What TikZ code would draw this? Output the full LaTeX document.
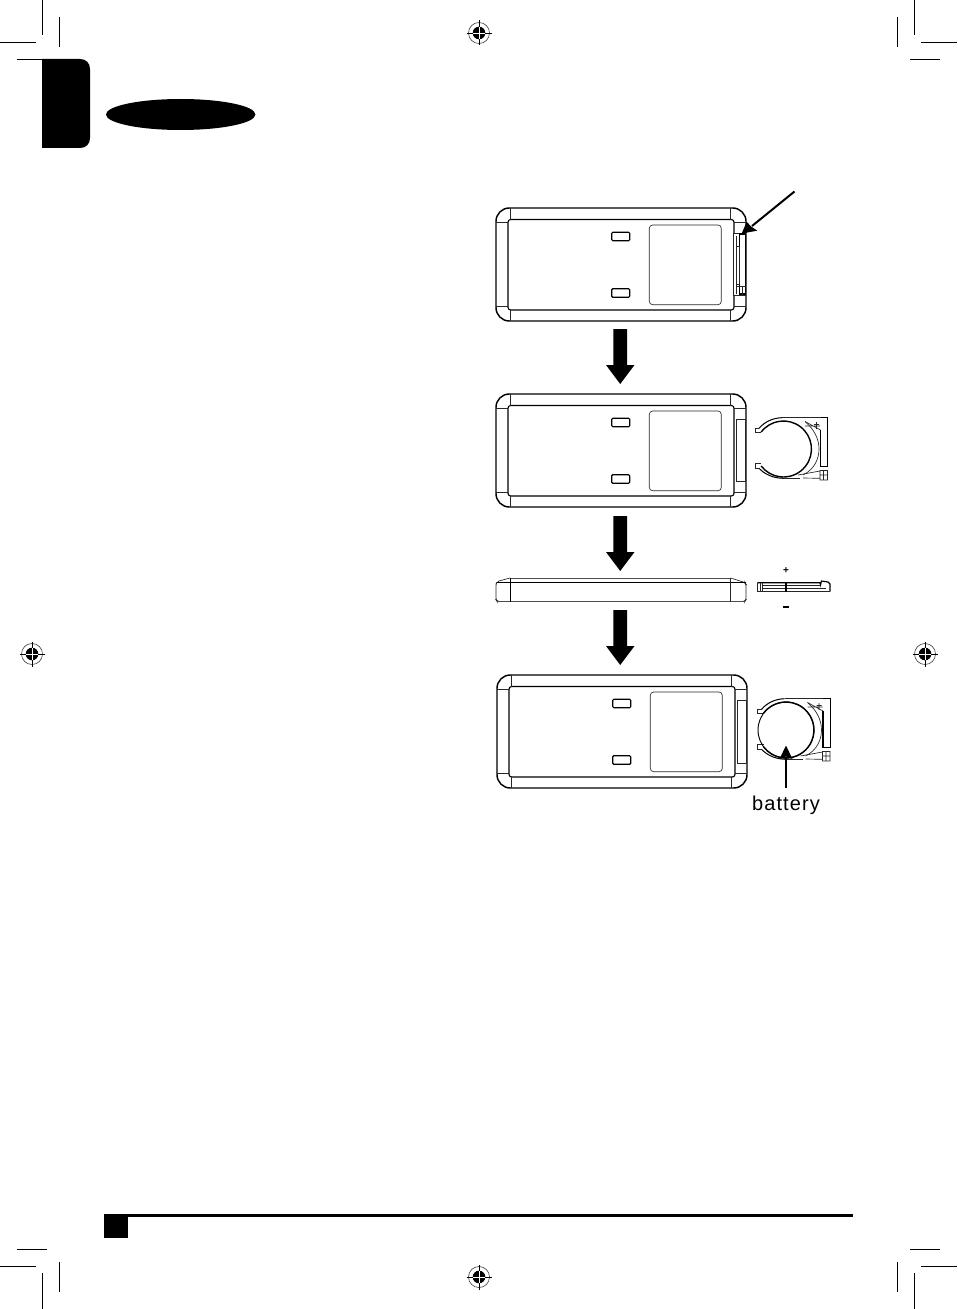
\documentclass[tikz,border=0pt]{standalone}
\usepackage{fontspec}
\newfontfamily\labelfont[LetterSpace=5.5]{Liberation Sans}
\newfontfamily\signfont{Liberation Sans}
\tikzset{
  outerline/.style={line width=1.1pt,black},
  innerline/.style={line width=0.85pt,black},
  thinline/.style={line width=0.5pt,black!85},
  cropline/.style={line width=0.75pt,black},
  bigarrow/.style={fill=black,draw=none},
}
\newcommand{\deviceface}[2]{%
  \begin{scope}[shift={(#1,#2)}]
    \draw[outerline,rounded corners=10] (496,208) rectangle (746,321);
    \draw[innerline,rounded corners=2] (508,219.5) rectangle (734,310);
    \draw[thinline] (510,208)--(510,219.5) (730.5,208)--(730.5,219.5)
      (510,310)--(510,321) (730.5,310)--(730.5,321)
      (496,222)--(508,222) (734,222)--(746,222)
      (496,306.5)--(508,306.5) (734,306.5)--(746,306.5);
    \draw[thinline,rounded corners=2.5] (649.3,225) rectangle (721.3,304.7);
    \draw[innerline,rounded corners=0.8] (611.7,232.3) rectangle (629.7,240.7);
    \draw[innerline,rounded corners=0.8] (611.7,288.7) rectangle (629.7,297.3);
  \end{scope}}
\newcommand{\holder}[2]{%
  \begin{scope}[shift={(#1,#2)}]
    % main ring
    \draw[line width=1.05pt] (761.2,432) arc[start angle=-142.6,end angle=142.6,radius=28];
    % outer rim, heavier on the left where the ring opens
    \draw[line width=0.75pt] (759,428.3) .. controls (765,421.5) and (773,418) .. (782,417.7);
    \draw[line width=0.75pt] (759,468.3) .. controls (765,474.5) and (773,478) .. (783,478.3);
    \draw[thinline] (782,417.7)--(820.5,417.7) (783,478.3)--(800,478.3);
    % second arc on the right
    \draw[thinline] (805,421.5) .. controls (815,430) and (819,440) .. (819,449)
      .. controls (819,458) and (815,469) .. (803,475);
    % tabs
    \draw[thinline] (759,428.3)--(755,428.3)--(755,432.3)--(761.2,432.3);
    \draw[thinline] (761.2,463.3)--(755,463.3)--(755,468.3)--(759,468.3);
    % right hand bar
    \draw[line width=0.8pt] (820.5,417.7)--(827.7,417.7)--(827.7,466.7)--(820.5,466.7)--(820.5,430);
    \draw[thinline] (805,421.5)--(820.5,430) (805,426)--(820,426)
      (814,424.5)--(819,424.5) (816.5,422)--(816.5,429);
    % lower catch
    \draw[thinline] (798,475)--(820,471) (803,478)--(820,478.3)
      (820,470.5) rectangle (827.5,480) (820,475)--(827.5,475) (823.5,470.5)--(823.5,480);
  \end{scope}}
\newcommand{\downarrowbig}[1]{%
  \fill[bigarrow] (613.3,#1)--(627,#1)--(627,#1+36)--(634.5,#1+36)--(620.2,#1+55)--(606,#1+36)--(613.3,#1+36)--cycle;}
\newcommand{\regmark}[2]{%
  \begin{scope}[shift={(#1,#2)}]
    \draw[line width=0.5pt,black!70] (0,0) circle[radius=10.5];
    \fill[black] (0,0) circle[radius=6.3];
    \draw[line width=0.6pt,white] (-6.3,0)--(6.3,0) (0,-6.3)--(0,6.3);
    \draw[line width=0.6pt,black] (-12.5,0)--(-6.3,0) (6.3,0)--(12.5,0) (0,-12.5)--(0,-6.3) (0,6.3)--(0,12.5);
  \end{scope}}
\begin{document}
\begin{tikzpicture}[x=0.75pt,y=-0.75pt]
\useasboundingbox (0,0) rectangle (957,1309);
% crop marks
\draw[cropline] (0,42.5)--(36,42.5) (42.5,0)--(42.5,35) (59.5,17)--(59.5,47) (17,59.5)--(42,59.5);
\draw[cropline] (957,42.5)--(921,42.5) (914.5,0)--(914.5,35) (897.5,17)--(897.5,47) (940,59.5)--(910,59.5);
\draw[cropline] (0,1266.5)--(36,1266.5) (42.5,1309)--(42.5,1273) (59.5,1292)--(59.5,1262) (17,1249.5)--(47,1249.5);
\draw[cropline] (957,1266.5)--(921,1266.5) (914.5,1309)--(914.5,1273) (897.5,1292)--(897.5,1262) (940,1249.5)--(910,1249.5);
\regmark{479}{33}\regmark{32}{654}\regmark{925}{654}\regmark{479}{1277}
% header tab and ellipse
\fill[black] (42,59)--(80,59) .. controls (86,59) and (90,63) .. (90,69)--(90,138) .. controls (90,144) and (86,148) .. (80,148)--(42,148)--cycle;
\fill[black] (180.7,114.5) ellipse[x radius=74.7,y radius=15.5];
% footer
\fill[black] (104,1214) rectangle (127.5,1238);
\fill[black] (127,1214) rectangle (853,1216.8);
% device 1
\deviceface{0}{0}
\draw[thinline,fill=white] (733,233.5) rectangle (745.7,295.7);
\draw[innerline] (739.5,234) -- (745.7,234) -- (745.7,294) -- (739.5,294) -- cycle;
\draw[thinline] (736,236)--(736,294) (737,246)--(739.5,246)--(739.5,284)--(737,284)
  (737,286)--(745.7,286) (742,286)--(742,295.7);
\coordinate (cliptail) at (794.5,191.5);
\coordinate (cliptip) at (741.7,233.5);
\draw[line width=1.5pt] (cliptail)--(752,226);
\fill[black] (cliptip)--(746.7,221.7)--(751,226.5)--(757.3,230.7)--cycle;
\downarrowbig{329}
% device 2
\deviceface{0}{186}
\draw[thinline] (736.7,419) rectangle (745,481.7);
\holder{0}{0}
\downarrowbig{516}
% device 3 side view
\draw[thinline,rounded corners=1.5] (510,578)--(497,581.5)--(496,584)--(496,600)--(497,601.5)--(745,601.5)--(746,600)--(746,584)--(745,582.5)--(730.5,578);
\draw[line width=0.6pt,black!70] (510,578)--(730.5,578);
\draw[line width=1.2pt,black!70] (497,601.5)--(745,601.5);
\draw[innerline] (497,582.8)--(745.5,582.8);
\draw[innerline] (510.3,578)--(510.3,601.5);
\draw[thinline] (730.5,578)--(730.5,601.5);
% side battery
\draw[innerline] (757.3,582.8)--(820,582.8)--(820.5,585)--(821.5,581)--(828,582)--(830,584)--(830,591.7);
\draw[thinline] (757.3,582.8)--(757.3,591.7)--(830,591.7) (760,582.8)--(760,591.7) (762,582.8)--(762,591.7)
  (762,585.5)--(820,585.5) (762,588.5)--(826,588.5);
\draw[innerline] (786,582.8)--(786,591.7);
\node[inner sep=0pt,font=\signfont\bfseries\fontsize{7.5pt}{8pt}\selectfont] (plussign) at (786,571) {+};
\fill[black] (783,605.6) rectangle (788.5,607.8);
\downarrowbig{610}
% device 4
\deviceface{1}{467}
\draw[thinline] (737.7,700) rectangle (746,763);
\holder{2.5}{281}
\draw[line width=0.7pt,black] (786,730) circle[radius=28];
\coordinate (battail) at (786,788);
\coordinate (battip) at (786,745.5);
\draw[line width=1.5pt] (battail)--(786,757);
\fill[black] (battip)--(792.5,759)--(786,756.5)--(779.5,759)--cycle;
\node[inner sep=0pt,font=\labelfont\fontsize{15pt}{17pt}\selectfont] (batterylabel) at (786,805.5) {battery};
\end{tikzpicture}
\end{document}
